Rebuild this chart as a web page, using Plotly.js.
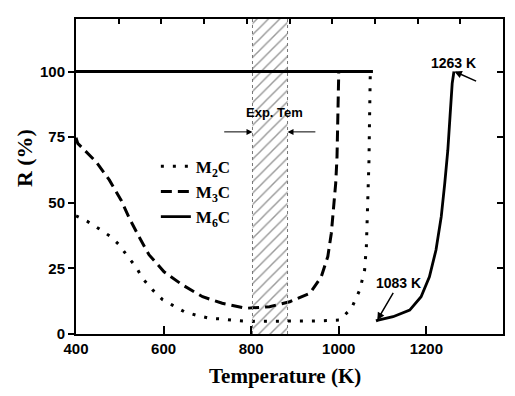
<!DOCTYPE html>
<html>
<head>
<meta charset="utf-8">
<script src="https://cdn.plot.ly/plotly-3.0.1.min.js"></script>
<style>html,body{margin:0;padding:0;background:#fff;}#chart{width:515px;height:396px;}</style>
</head>
<body>
<div id="chart"></div>
<script>
// ---- data ----
const m2cT = [400, 427, 457, 480, 499, 518, 537, 552, 575, 598, 620, 647, 674, 704, 734, 765, 797, 850, 900, 950, 1002, 1029, 1048, 1059, 1063, 1065, 1067, 1069, 1070, 1072, 1072];
const m2cR = [45, 42.8, 39.6, 37, 33.9, 29.5, 25.6, 21.2, 16.8, 13, 11, 8.5, 7.2, 6, 5.7, 5.1, 4.8, 4.8, 4.8, 5, 5.3, 9.8, 16.8, 24.4, 33.3, 43.4, 53.6, 66.3, 79, 91.7, 100];

const m3cT = [400, 404, 446, 476, 503, 522, 544, 567, 601, 643, 689, 734, 788, 842, 888, 934, 960, 975, 983, 988, 993, 996, 998, 1000, 1000];
const m3cR = [74.8, 72.6, 65.6, 58.7, 51, 44, 37, 30.1, 23.7, 18.7, 14.2, 11.7, 9.8, 10.4, 12.3, 15.5, 21.8, 29.5, 38.4, 48.5, 57.4, 67.5, 79, 91.7, 100];

const m6cFlatT = [400, 1078];
const m6cFlatR = [100, 100];
const m6cT = [1085, 1090, 1124, 1162, 1188, 1207, 1222, 1234, 1242, 1249, 1254, 1259, 1263];
const m6cR = [5, 5.3, 6.6, 9.1, 14.2, 21.8, 32, 44.7, 57.4, 70, 82.8, 95.5, 100];

const expRange = [803, 883];
const seriesNames = ['M<sub>2</sub>C', 'M<sub>3</sub>C', 'M<sub>6</sub>C'];
const xTicks = [400, 600, 800, 1000, 1200];
const yTicks = [0, 25, 50, 75, 100];

// ---- traces ----
const expMid = (expRange[0] + expRange[1]) / 2;
const expWidth = expRange[1] - expRange[0];

const traces = [
  {
    type: 'bar', x: [expMid], y: [120], base: [0], width: [expWidth],
    marker: {color: 'rgba(0,0,0,0)', line: {width: 0},
      pattern: {shape: '/', fgcolor: '#333', bgcolor: 'rgba(255,255,255,0)', size: 8, solidity: 0.18, fillmode: 'overlay'}},
    showlegend: false, hoverinfo: 'skip'
  },
  {
    type: 'scatter', mode: 'lines', x: m2cT, y: m2cR, name: seriesNames[0],
    line: {color: '#000', width: 3, dash: '3px,9px'}
  },
  {
    type: 'scatter', mode: 'lines', x: m3cT, y: m3cR, name: seriesNames[1],
    line: {color: '#000', width: 3, dash: '11px,6px'}
  },
  {
    type: 'scatter', mode: 'lines', x: m6cFlatT, y: m6cFlatR, name: seriesNames[2],
    line: {color: '#000', width: 2.8}, legendgroup: 'm6c'
  },
  {
    type: 'scatter', mode: 'lines', x: m6cT, y: m6cR, name: seriesNames[2],
    line: {color: '#000', width: 2.8}, legendgroup: 'm6c', showlegend: false
  },
  // invisible trace to activate mirror axes
  {type: 'scatter', x: [0], y: [0], xaxis: 'x2', yaxis: 'y2', mode: 'markers', marker: {opacity: 0}, showlegend: false, hoverinfo: 'skip'}
];

const tickFont = {family: 'Liberation Sans, Arial, sans-serif', size: 15, color: '#000', weight: 'bold'};
const labelFont = {family: 'Liberation Sans, Arial, sans-serif', size: 14, color: '#000', weight: 'bold'};

const layout = {
  width: 515, height: 396,
  margin: {l: 76, r: 12, t: 19, b: 62},
  paper_bgcolor: '#fff', plot_bgcolor: '#fff',
  showlegend: true,
  legend: {
    x: 0.187, y: 0.588, xanchor: 'left', yanchor: 'top',
    bgcolor: 'rgba(0,0,0,0)', borderwidth: 0,
    font: {family: 'Liberation Serif, Times New Roman, serif', size: 17, color: '#000', weight: 'bold'},
    tracegroupgap: 0
  },
  xaxis: {
    range: [400, 1375], tickvals: xTicks, ticktext: xTicks.map(String),
    ticks: 'inside', ticklen: 8, tickwidth: 2, tickcolor: '#000',
    showline: true, linewidth: 2, linecolor: '#000', showgrid: false, zeroline: false,
    tickfont: tickFont
  },
  yaxis: {
    range: [0, 120], tickvals: yTicks, ticktext: yTicks.map(String),
    ticks: 'outside', ticklen: 6, tickwidth: 2, tickcolor: '#000',
    showline: true, linewidth: 2, linecolor: '#000', showgrid: false, zeroline: false,
    tickfont: tickFont
  },
  xaxis2: {
    overlaying: 'x', side: 'top', range: [0, 10], dtick: 1, tick0: 0,
    ticks: 'inside', ticklen: 5, tickwidth: 2, tickcolor: '#000',
    showticklabels: false, showline: true, linewidth: 2, linecolor: '#000',
    showgrid: false, zeroline: false
  },
  yaxis2: {
    overlaying: 'y', side: 'right', range: [0, 120], tickvals: yTicks,
    ticks: 'inside', ticklen: 6, tickwidth: 2, tickcolor: '#000',
    showticklabels: false, showline: true, linewidth: 2, linecolor: '#000',
    showgrid: false, zeroline: false
  },
  shapes: [
    {type: 'line', xref: 'x', yref: 'y', x0: expRange[0], x1: expRange[0], y0: 0, y1: 120, line: {color: '#777', width: 1, dash: 'dot'}},
    {type: 'line', xref: 'x', yref: 'y', x0: expRange[1], x1: expRange[1], y0: 0, y1: 120, line: {color: '#777', width: 1, dash: 'dot'}}
  ],
  annotations: [
    {xref: 'paper', yref: 'paper', x: 0.489, y: -0.133, xanchor: 'center', yanchor: 'middle', showarrow: false,
     text: 'Temperature (K)', font: {family: 'Liberation Serif, Times New Roman, serif', size: 21, color: '#000', weight: 'bold'}},
    {xref: 'paper', yref: 'paper', x: -0.119, y: 0.559, xanchor: 'center', yanchor: 'middle', showarrow: false, textangle: -90,
     text: 'R (%)', font: {family: 'Liberation Serif, Times New Roman, serif', size: 22, color: '#000', weight: 'bold'}},
    {xref: 'x', yref: 'y', x: 854, y: 84.2, showarrow: false, text: 'Exp. Tem',
     font: {family: 'Liberation Sans, Arial, sans-serif', size: 13, color: '#000', weight: 'bold'}},
    {xref: 'x', yref: 'y', x: expRange[0], y: 77, axref: 'x', ayref: 'y', ax: 735, ay: 77, text: '', showarrow: true,
     arrowhead: 2, arrowsize: 1.2, arrowwidth: 1, arrowcolor: '#000', standoff: 0},
    {xref: 'x', yref: 'y', x: expRange[1], y: 77, axref: 'x', ayref: 'y', ax: 950, ay: 77, text: '', showarrow: true,
     arrowhead: 2, arrowsize: 1.2, arrowwidth: 1, arrowcolor: '#000', standoff: 0},
    {xref: 'x', yref: 'y', x: 1262, y: 103.4, showarrow: false, text: '1263 K', font: labelFont},
    {xref: 'x', yref: 'y', x: 1264, y: 100, axref: 'x', ayref: 'y', ax: 1317, ay: 96.1, text: '', showarrow: true,
     arrowhead: 2, arrowsize: 1, arrowwidth: 1.5, arrowcolor: '#000', standoff: 0},
    {xref: 'x', yref: 'y', x: 1088, y: 5.3, axref: 'x', ayref: 'y', ax: 1137, ay: 19.3, text: '1083 K', font: labelFont,
     showarrow: true, arrowhead: 2, arrowsize: 1, arrowwidth: 1.5, arrowcolor: '#000', standoff: 0}
  ]
};

Plotly.newPlot('chart', traces, layout, {displayModeBar: false, staticPlot: true});
</script>
</body>
</html>
